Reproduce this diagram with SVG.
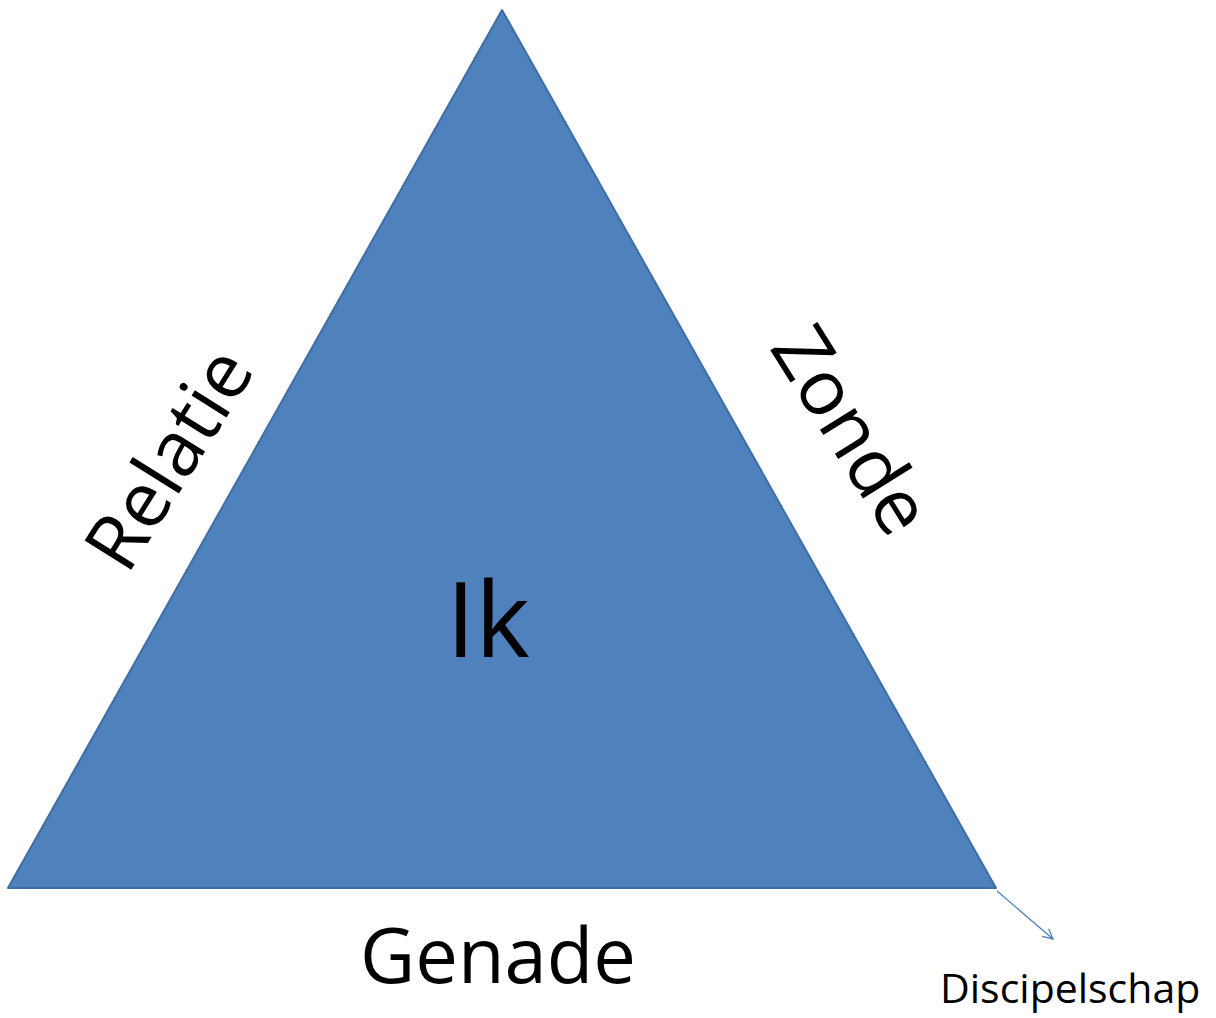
<svg xmlns="http://www.w3.org/2000/svg" width="1216" height="1018" viewBox="0 0 1216 1018">
<style>
.t{font-family:"Open Sans","Noto Sans",sans-serif;fill:#000}
</style>
<defs>
<marker id="ah" viewBox="0 0 12 12" refX="11" refY="6" markerWidth="12" markerHeight="12" markerUnits="userSpaceOnUse" orient="auto">
<path d="M1,1 L11,6 L1,11" fill="none" stroke="#4F81BD" stroke-width="1.3"/>
</marker>
</defs>
<rect width="1216" height="1018" fill="#fff"/>
<g id="triangle">
<polygon points="502,10 8,888 996,888" fill="#4F81BD" stroke="#3F6EA6" stroke-width="2" stroke-linejoin="round"/>
<text class="t" x="488" y="657" font-size="104" text-anchor="middle">Ik</text>
</g>
<g id="relatie"><text class="t" transform="translate(168,458) rotate(-58)" x="0" y="28" font-size="77" text-anchor="middle">Relatie</text></g>
<g id="zonde"><text class="t" transform="translate(852,430) rotate(58)" x="0" y="27" font-size="77" text-anchor="middle">Zonde</text></g>
<g id="genade"><text class="t" x="498" y="983" font-size="76" text-anchor="middle">Genade</text></g>
<g id="discipelschap"><text class="t" x="940" y="1003" font-size="41">Discipelschap</text></g>
<g id="connectors">
<line x1="997" y1="891" x2="1053" y2="939" stroke="#4F81BD" stroke-width="1.3" marker-end="url(#ah)"/>
</g>
</svg>
